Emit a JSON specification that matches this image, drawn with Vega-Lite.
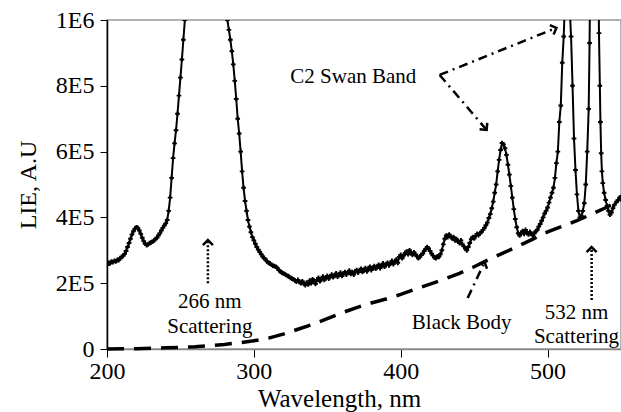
{
  "$schema": "https://vega.github.io/schema/vega-lite/v6.json",
  "width": 514,
  "height": 329,
  "autosize": {"type": "none"},
  "padding": {"left": 107, "top": 20, "right": 0, "bottom": 63},
  "background": "white",
  "config": {
    "view": {"stroke": "#999999", "strokeWidth": 1.5},
    "font": "Liberation Serif",
    "axis": {"labelFont": "Liberation Serif", "titleFont": "Liberation Serif", "labelColor": "black", "titleColor": "black", "titleFontWeight": "normal", "grid": false, "tickColor": "black", "labelFlush": false, "labelOverlap": false}
  },
  "datasets": {
    "spectrum": [
      {"w":200,"v":255000},{"w":201,"v":262000},{"w":202,"v":260000},{"w":203,"v":266000},{"w":204,"v":264000},{"w":205,"v":268000},{"w":206,"v":266000},{"w":207,"v":271000},{"w":208,"v":270000},{"w":209,"v":276000},
      {"w":210,"v":280000},{"w":211,"v":283000},{"w":212,"v":289000},{"w":213,"v":298000},{"w":214,"v":310000},{"w":215,"v":322000},{"w":216,"v":335000},{"w":217,"v":348000},{"w":218,"v":358000},{"w":219,"v":366000},
      {"w":220,"v":370000},{"w":221,"v":368000},{"w":222,"v":360000},{"w":223,"v":350000},{"w":224,"v":338000},{"w":225,"v":328000},{"w":226,"v":320000},{"w":227,"v":316000},{"w":228,"v":318000},{"w":229,"v":322000},
      {"w":230,"v":324000},{"w":231,"v":326000},{"w":232,"v":330000},{"w":233,"v":334000},{"w":234,"v":338000},{"w":235,"v":345000},{"w":236,"v":352000},{"w":237,"v":360000},{"w":238,"v":368000},{"w":239,"v":375000},
      {"w":240,"v":382000},{"w":241,"v":392000},{"w":242,"v":420000},{"w":243,"v":460000},{"w":244,"v":520000},{"w":245,"v":580000},{"w":246,"v":625000},{"w":247,"v":665000},{"w":248,"v":715000},{"w":249,"v":770000},
      {"w":250,"v":825000},{"w":251,"v":880000},{"w":252,"v":940000},{"w":253,"v":1000000},{"w":254,"v":1060000},{"w":255,"v":1120000},{"w":258,"v":1300000},{"w":262,"v":1480000},{"w":266,"v":1560000},{"w":270,"v":1500000},
      {"w":274,"v":1350000},{"w":278,"v":1170000},{"w":281,"v":1040000},{"w":282,"v":1000000},{"w":283,"v":970000},{"w":284,"v":940000},{"w":285,"v":905000},{"w":286,"v":865000},{"w":287,"v":815000},{"w":288,"v":760000},
      {"w":289,"v":700000},{"w":290,"v":655000},{"w":291,"v":600000},{"w":292,"v":540000},{"w":293,"v":490000},{"w":294,"v":450000},{"w":295,"v":420000},{"w":296,"v":392000},{"w":297,"v":372000},{"w":298,"v":355000},
      {"w":299,"v":340000},{"w":300,"v":330000},{"w":301,"v":320000},{"w":302,"v":310000},{"w":303,"v":302000},{"w":304,"v":295000},{"w":305,"v":288000},{"w":306,"v":281000},{"w":307,"v":276000},{"w":308,"v":272000},
      {"w":309,"v":266000},{"w":310,"v":262000},{"w":311,"v":260000},{"w":312,"v":256000},{"w":313,"v":253000},{"w":314,"v":252000},{"w":315,"v":250000},{"w":316,"v":246000},{"w":317,"v":240000},{"w":318,"v":236000},
      {"w":319,"v":232000},{"w":320,"v":230000},{"w":321,"v":228000},{"w":322,"v":225000},{"w":323,"v":222000},{"w":324,"v":220000},{"w":325,"v":216000},{"w":326,"v":214000},{"w":327,"v":212000},{"w":328,"v":208000},
      {"w":329,"v":205000},{"w":330,"v":210000},{"w":331,"v":204000},{"w":332,"v":200000},{"w":333,"v":206000},{"w":334,"v":198000},{"w":335,"v":194000},{"w":336,"v":202000},{"w":337,"v":196000},{"w":338,"v":208000},
      {"w":339,"v":200000},{"w":340,"v":212000},{"w":341,"v":205000},{"w":342,"v":198000},{"w":343,"v":210000},{"w":344,"v":216000},{"w":345,"v":206000},{"w":346,"v":212000},{"w":347,"v":220000},{"w":348,"v":210000},
      {"w":349,"v":215000},{"w":350,"v":222000},{"w":351,"v":214000},{"w":352,"v":220000},{"w":353,"v":226000},{"w":354,"v":218000},{"w":355,"v":224000},{"w":356,"v":230000},{"w":357,"v":220000},{"w":358,"v":226000},
      {"w":359,"v":232000},{"w":360,"v":222000},{"w":361,"v":228000},{"w":362,"v":234000},{"w":363,"v":226000},{"w":364,"v":232000},{"w":365,"v":238000},{"w":366,"v":228000},{"w":367,"v":234000},{"w":368,"v":226000},
      {"w":369,"v":236000},{"w":370,"v":240000},{"w":371,"v":232000},{"w":372,"v":238000},{"w":373,"v":244000},{"w":374,"v":234000},{"w":375,"v":240000},{"w":376,"v":246000},{"w":377,"v":236000},{"w":378,"v":244000},
      {"w":379,"v":250000},{"w":380,"v":240000},{"w":381,"v":246000},{"w":382,"v":252000},{"w":383,"v":244000},{"w":384,"v":250000},{"w":385,"v":256000},{"w":386,"v":246000},{"w":387,"v":254000},{"w":388,"v":260000},
      {"w":389,"v":250000},{"w":390,"v":256000},{"w":391,"v":262000},{"w":392,"v":254000},{"w":393,"v":260000},{"w":394,"v":268000},{"w":395,"v":258000},{"w":396,"v":266000},{"w":397,"v":272000},{"w":398,"v":262000},
      {"w":399,"v":280000},{"w":400,"v":286000},{"w":401,"v":276000},{"w":402,"v":284000},{"w":403,"v":292000},{"w":404,"v":296000},{"w":405,"v":288000},{"w":406,"v":300000},{"w":407,"v":292000},{"w":408,"v":286000},
      {"w":409,"v":294000},{"w":410,"v":288000},{"w":411,"v":282000},{"w":412,"v":276000},{"w":413,"v":280000},{"w":414,"v":286000},{"w":415,"v":290000},{"w":416,"v":298000},{"w":417,"v":304000},{"w":418,"v":310000},
      {"w":419,"v":306000},{"w":420,"v":298000},{"w":421,"v":290000},{"w":422,"v":284000},{"w":423,"v":278000},{"w":424,"v":276000},{"w":425,"v":282000},{"w":426,"v":280000},{"w":427,"v":288000},{"w":428,"v":300000},
      {"w":429,"v":318000},{"w":430,"v":335000},{"w":431,"v":345000},{"w":432,"v":340000},{"w":433,"v":348000},{"w":434,"v":342000},{"w":435,"v":336000},{"w":436,"v":340000},{"w":437,"v":330000},{"w":438,"v":334000},
      {"w":439,"v":326000},{"w":440,"v":322000},{"w":441,"v":330000},{"w":442,"v":318000},{"w":443,"v":312000},{"w":444,"v":305000},{"w":445,"v":300000},{"w":446,"v":310000},{"w":447,"v":322000},{"w":448,"v":334000},
      {"w":449,"v":340000},{"w":450,"v":336000},{"w":451,"v":344000},{"w":452,"v":350000},{"w":453,"v":346000},{"w":454,"v":352000},{"w":455,"v":356000},{"w":456,"v":362000},{"w":457,"v":368000},{"w":458,"v":376000},
      {"w":459,"v":384000},{"w":460,"v":398000},{"w":461,"v":410000},{"w":462,"v":428000},{"w":463,"v":448000},{"w":464,"v":475000},{"w":465,"v":500000},{"w":466,"v":540000},{"w":467,"v":575000},{"w":468,"v":605000},
      {"w":469,"v":626000},{"w":470,"v":622000},{"w":471,"v":610000},{"w":472,"v":590000},{"w":473,"v":560000},{"w":474,"v":530000},{"w":475,"v":495000},{"w":476,"v":460000},{"w":477,"v":425000},{"w":478,"v":395000},
      {"w":479,"v":370000},{"w":480,"v":352000},{"w":481,"v":345000},{"w":482,"v":352000},{"w":483,"v":358000},{"w":484,"v":350000},{"w":485,"v":362000},{"w":486,"v":355000},{"w":487,"v":348000},{"w":488,"v":356000},
      {"w":489,"v":350000},{"w":490,"v":345000},{"w":491,"v":352000},{"w":492,"v":358000},{"w":493,"v":362000},{"w":494,"v":372000},{"w":495,"v":380000},{"w":496,"v":390000},{"w":497,"v":400000},{"w":498,"v":412000},
      {"w":499,"v":420000},{"w":500,"v":430000},{"w":501,"v":445000},{"w":502,"v":460000},{"w":503,"v":475000},{"w":504,"v":490000},{"w":505,"v":520000},{"w":506,"v":565000},{"w":507,"v":600000},{"w":508,"v":690000},
      {"w":509,"v":740000},{"w":510,"v":870000},{"w":511,"v":950000},{"w":512,"v":1080000},{"w":513,"v":1200000},{"w":514,"v":1120000},{"w":515,"v":1040000},{"w":516,"v":950000},{"w":517,"v":800000},{"w":518,"v":640000},
      {"w":519,"v":544000},{"w":520,"v":470000},{"w":521,"v":420000},{"w":522,"v":400000},{"w":523,"v":405000},{"w":524,"v":420000},{"w":525,"v":443000},{"w":526,"v":500000},{"w":527,"v":600000},{"w":528,"v":730000},
      {"w":528.6,"v":930000},{"w":530,"v":1600000},{"w":532,"v":2600000},{"w":534,"v":1500000},{"w":535,"v":960000},{"w":535.6,"v":800000},{"w":536,"v":690000},{"w":536.5,"v":595000},{"w":537,"v":540000},{"w":537.6,"v":504000},
      {"w":538.5,"v":475000},{"w":539.5,"v":453000},{"w":540.5,"v":435000},{"w":541.5,"v":420000},{"w":542.5,"v":408000},{"w":543.5,"v":415000},{"w":544.5,"v":428000},{"w":545.5,"v":438000},{"w":547,"v":448000},{"w":548,"v":452000},
      {"w":549,"v":460000},{"w":550,"v":462000}
    ],
    "blackbody": [
      {"w":200,"v":0},{"w":210,"v":500},{"w":220,"v":1000},{"w":230,"v":2000},{"w":240,"v":3500},{"w":250,"v":5000},{"w":260,"v":7000},{"w":270,"v":10000},{"w":280,"v":14000},{"w":290,"v":19000},
      {"w":300,"v":25000},{"w":310,"v":33000},{"w":320,"v":45000},{"w":330,"v":60000},{"w":340,"v":75000},{"w":350,"v":92000},{"w":360,"v":110000},{"w":370,"v":126000},{"w":380,"v":140000},{"w":390,"v":152000},
      {"w":400,"v":166000},{"w":410,"v":182000},{"w":420,"v":197000},{"w":430,"v":213000},{"w":440,"v":230000},{"w":450,"v":250000},{"w":460,"v":272000},{"w":470,"v":292000},{"w":480,"v":313000},{"w":490,"v":334000},
      {"w":500,"v":356000},{"w":510,"v":373000},{"w":520,"v":390000},{"w":530,"v":410000},{"w":540,"v":430000},{"w":550,"v":455000}
    ],
    "labels": [
      {"t":"266 nm","w":270,"v":143000},
      {"t":"Scattering","w":270,"v":67000},
      {"t":"532 nm","w":519.7,"v":109000},
      {"t":"Scattering","w":519.7,"v":36000},
      {"t":"Black Body","w":441.5,"v":79000},
      {"t":"C2 Swan Band","w":367.7,"v":827000}
    ],
    "dotted": [
      {"w":268.7,"v":200000,"w2":268.7,"v2":331000},
      {"w":530,"v":149000,"w2":530,"v2":310000}
    ],
    "dashdot": [
      {"w":445.6,"v":155000,"w2":457.1,"v2":264000},
      {"w":426.5,"v":833000,"w2":506,"v2":976000},
      {"w":426.5,"v":833000,"w2":458.5,"v2":666000}
    ],
    "headUp": [{"w":268.7,"v":331000},{"w":530,"v":310000}],
    "headBB": [{"w":457.1,"v":264000}],
    "headC2a": [{"w":506,"v":976000}],
    "headC2b": [{"w":458.5,"v":666000}]
  },
  "encoding": {
    "x": {"field": "w", "type": "quantitative", "scale": {"domain": [200, 550], "nice": false, "zero": false},
      "axis": {"values": [200, 300, 400, 500], "title": "Wavelength, nm", "labelFontSize": 24, "titleFontSize": 25, "tickSize": 8, "labelPadding": 2, "domainColor": "#888888", "domainWidth": 1.5, "titlePadding": 3, "titleX": 232, "titleAnchor": "start", "titleAlign": "center"}},
    "y": {"field": "v", "type": "quantitative", "scale": {"domain": [0, 1000000], "nice": false},
      "axis": {"values": [0, 200000, 400000, 600000, 800000, 1000000], "labelExpr": "datum.value == 0 ? '0' : datum.value == 1000000 ? '1E6' : (datum.value / 100000) + 'E5'", "title": "LIE, A.U", "labelFontSize": 24, "titleFontSize": 24, "tickSize": 7, "labelPadding": 6, "domainColor": "black", "domainWidth": 1.5, "titlePadding": 15}}
  },
  "layer": [
    {"data": {"name": "blackbody"}, "mark": {"type": "line", "color": "black", "strokeWidth": 3.5, "strokeDash": [17, 10]}},
    {"data": {"name": "spectrum"}, "mark": {"type": "line", "color": "black", "strokeWidth": 2, "clip": true}},
    {"data": {"name": "spectrum"}, "mark": {"type": "point", "shape": "cross", "size": 22, "filled": true, "color": "black", "opacity": 1, "clip": true}},
    {"data": {"name": "dotted"}, "mark": {"type": "rule", "color": "black", "strokeWidth": 2.5, "strokeDash": [2, 2]},
      "encoding": {"x2": {"field": "w2"}, "y2": {"field": "v2"}}},
    {"data": {"name": "dashdot"}, "mark": {"type": "rule", "color": "black", "strokeWidth": 2.5, "strokeDash": [9, 5, 2, 5]},
      "encoding": {"x2": {"field": "w2"}, "y2": {"field": "v2"}}},
    {"data": {"name": "headUp"}, "mark": {"type": "point", "shape": "M-1,1L0,0L1,1", "size": 100, "filled": false, "color": "black", "strokeWidth": 2.5, "opacity": 1}},
    {"data": {"name": "headBB"}, "mark": {"type": "point", "shape": "M-1,1L0,0L1,1", "size": 100, "filled": false, "color": "black", "strokeWidth": 2.5, "opacity": 1, "angle": 25}},
    {"data": {"name": "headC2a"}, "mark": {"type": "point", "shape": "M-1,1L0,0L1,1", "size": 100, "filled": false, "color": "black", "strokeWidth": 2.5, "opacity": 1, "angle": 68}},
    {"data": {"name": "headC2b"}, "mark": {"type": "point", "shape": "M-1,1L0,0L1,1", "size": 100, "filled": false, "color": "black", "strokeWidth": 2.5, "opacity": 1, "angle": 140}},
    {"data": {"name": "labels"}, "mark": {"type": "text", "font": "Liberation Serif", "fontSize": 21, "color": "black", "align": "center", "baseline": "middle"},
      "encoding": {"text": {"field": "t"}}}
  ]
}
